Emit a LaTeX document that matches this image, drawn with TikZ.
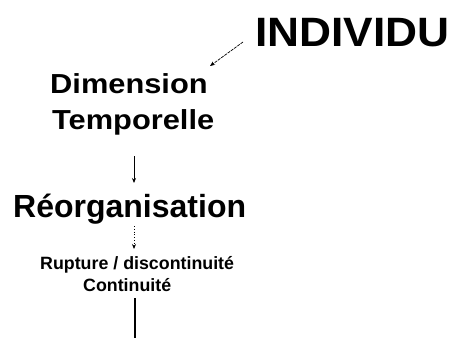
\documentclass[tikz,border=0pt]{standalone}
\usepackage{fontspec}
\setmainfont{Liberation Sans}
\usetikzlibrary{arrows.meta}
\tikzset{
  lbl/.style={anchor=base west, inner sep=0pt, font=\bfseries},
  conn/.style={line width=0.8pt, -{Stealth[length=5pt,width=4pt]}},
}
\begin{document}
\begin{tikzpicture}[x=1pt,y=-1pt]
\useasboundingbox (0,0) rectangle (454,338);
\node[lbl] (ind) at (255,46) {\fontsize{41}{44}\selectfont\scalebox{1.08}[1]{INDIVIDU}};
\node[lbl] (dim) at (50,93) {\fontsize{27.5}{30}\selectfont\scalebox{1.12}[1]{Dimension}};
\node[lbl] (tem) at (52,129) {\fontsize{27.5}{30}\selectfont\scalebox{1.12}[1]{Temporelle}};
\node[lbl] (reo) at (13,217) {\fontsize{32}{36}\selectfont Réorganisation};
\node[lbl] (rup) at (40,269) {\fontsize{17.8}{20}\selectfont Rupture / discontinuité};
\node[lbl] (con) at (83,291) {\fontsize{17.8}{20}\selectfont Continuité};
\coordinate (a1s) at (243,42);
\coordinate (a1e) at (210,66);
\coordinate (a2s) at (134,156);
\coordinate (a2e) at (134,183);
\coordinate (a3s) at (134,226);
\coordinate (a3e) at (134,249);
\coordinate (a4s) at (135,298);
\coordinate (a4e) at (135,338);
\draw[conn, line width=0.7pt, dash pattern=on 3pt off 1pt] (a1s) -- (a1e);
\draw[conn] (a2s) -- (a2e);
\draw[conn, dotted] (a3s) -- (a3e);
\draw[line width=1.6pt] (a4s) -- (a4e);
\end{tikzpicture}
\end{document}
